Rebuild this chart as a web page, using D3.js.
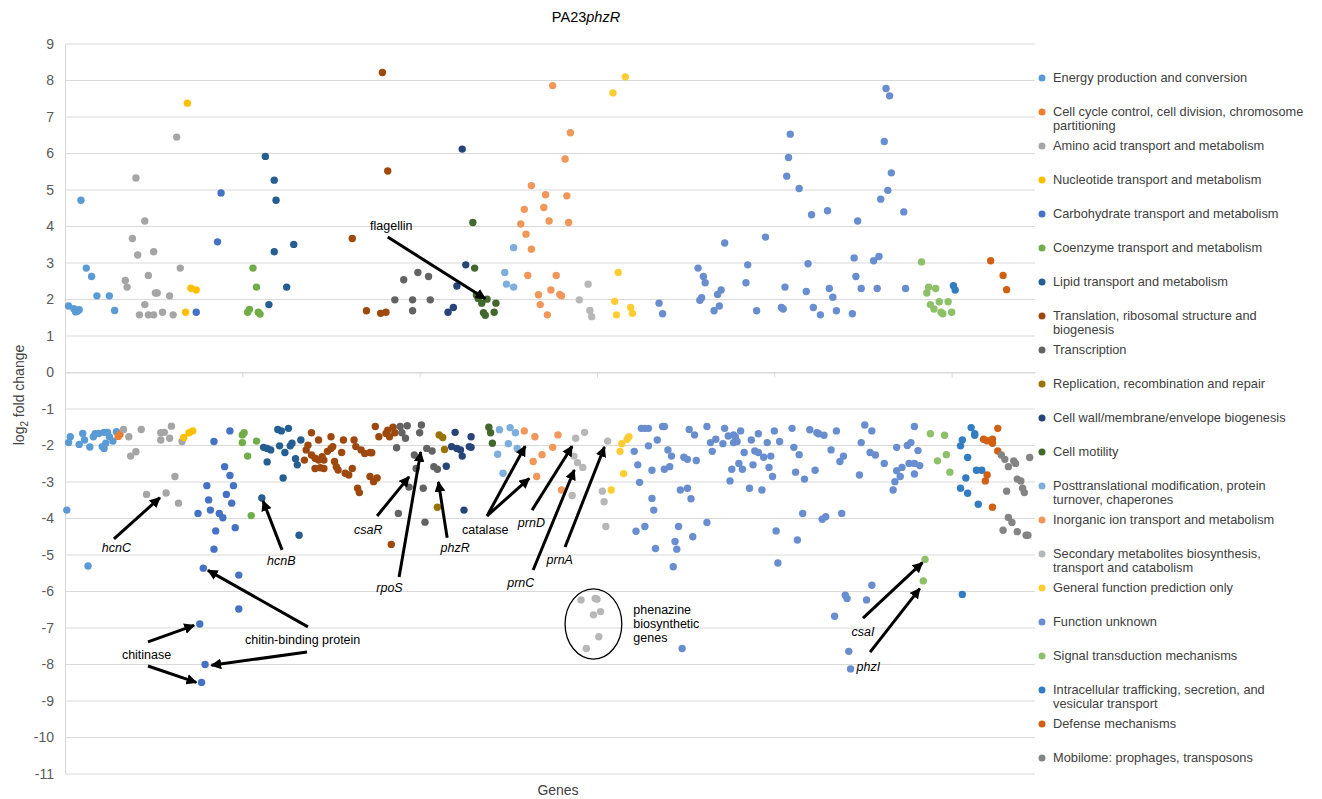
<!DOCTYPE html>
<html>
<head>
<meta charset="utf-8">
<script src="https://cdn.jsdelivr.net/npm/d3@7/dist/d3.min.js"></script>
<style>
  body { margin: 0; background: #fff; font-family: Arial, "Liberation Sans", sans-serif; }
</style>
</head>
<body>
<div class="chart"></div>
<script>
// gene order index along x, log2 fold change along y: [index, value]
var energy = [[9,4.72],[12,2.86],[15,2.63],[18,2.10],[25,2.10],[28,1.70],[2,1.82],[5,1.75],[7,1.68],[8,1.72],[6,1.66],
  [2,-1.92],[3,-1.76],[8,-1.97],[10,-1.67],[11,-1.85],[14,-2.04],[16,-1.76],[17,-1.68],[19,-1.67],[22,-1.64],[24,-1.64],
  [21,-2.03],[22,-2.08],[23,-1.94],[25,-1.76],[27,-1.88],[29,-1.62],[1,-3.77],[13,-5.30]];
var cellCycle = [[31,-1.69],[30,-1.75]];
var aminoAcid = [[63,6.45],[40,5.33],[45,4.15],[38,3.67],[41,3.22],[50,3.31],[65,2.86],[47,2.66],[34,2.52],[35,2.34],
  [51,2.18],[52,2.18],[59,2.10],[45,1.86],[42,1.58],[47,1.58],[50,1.58],[55,1.65],[61,1.58],
  [33,-1.56],[36,-1.76],[37,-2.29],[40,-2.17],[43,-1.56],[54,-1.65],[56,-1.64],[54,-1.85],[59,-1.80],[60,-1.47],
  [66,-1.89],[62,-2.85],[46,-3.34],[57,-3.30],[64,-3.58]];
var nucleotide = [[69,7.38],[71,2.31],[74,2.26],[68,1.65],[67,-1.78],[70,-1.65],[72,-1.60]];
var carbohydrate = [[74,1.65],[88,4.92],[86,3.58],
  [84,-1.89],[93,-1.60],[90,-2.58],[93,-2.82],[95,-3.10],[80,-3.10],[91,-3.34],[81,-3.49],[94,-3.58],[82,-3.77],
  [75,-3.86],[87,-3.86],[89,-3.98],[96,-4.25],[85,-4.34],[84,-4.84],[78,-5.36],[98,-5.55],[98,-6.48],[76,-6.89],
  [79,-8.00],[77,-8.49]];
var coenzyme = [[106,2.86],[108,2.34],[103,1.65],[104,1.73],[109,1.65],[110,1.60],
  [100,-1.71],[101,-1.65],[100,-1.92],[108,-1.88],[103,-2.29],[105,-3.92]];
var lipid = [[113,5.92],[118,5.27],[119,4.72],[118,3.31],[129,3.51],[125,2.34],[115,1.86],
  [111,-3.44],[112,-2.05],[120,-1.56],[122,-1.60],[126,-1.53],[114,-2.08],[116,-2.12],[114,-2.45],[121,-2.01],
  [124,-2.19],[127,-2.01],[128,-1.94],[130,-2.36],[131,-2.53],[133,-1.85],[123,-2.89],[132,-4.46]];
var translation = [[179,8.22],[182,5.52],[162,3.67],[170,1.69],[178,1.62],[181,1.65],
  [139,-1.65],[143,-1.85],[137,-1.99],[136,-2.12],[135,-2.40],[139,-2.26],[141,-2.35],[143,-2.40],[145,-2.31],
  [146,-2.40],[148,-2.16],[150,-2.08],[151,-2.03],[150,-1.76],[141,-2.63],[144,-2.61],[146,-2.63],[152,-2.44],
  [153,-2.58],[154,-2.67],[156,-2.19],[157,-1.85],[158,-2.76],[160,-2.81],[162,-2.63],[163,-1.85],[164,-2.03],
  [167,-2.12],[169,-2.22],[172,-2.19],[173,-2.20],[172,-2.85],[174,-2.99],[176,-2.89],[165,-3.17],[166,-3.29],
  [175,-1.48],[177,-1.76],[181,-1.67],[182,-1.58],[185,-1.50],[186,-1.65],[183,-1.76],[184,-4.71]];
var transcription = [[191,2.54],[199,2.74],[205,2.63],[186,1.99],[196,1.99],[206,1.99],[196,1.69],
  [189,-1.48],[193,-1.46],[190,-1.65],[192,-1.80],[187,-2.06],[201,-1.44],[200,-1.65],[197,-2.26],[204,-2.08],
  [207,-2.15],[198,-2.63],[208,-2.58],[210,-2.65],[194,-3.14],[202,-3.17],[188,-3.86],[203,-4.10]];
var replication = [[211,-1.71],[213,-1.78],[214,-2.11],[210,-3.69]];
var cellWall = [[224,6.12],[226,2.95],[221,2.37],[216,1.65],[219,1.78],
  [220,-1.64],[218,-2.03],[221,-2.08],[223,-2.12],[224,-2.29],[215,-2.57],[225,-3.77],[228,-2.03],[229,-2.05],[229,-1.76]];
var motility = [[230,4.11],[231,2.86],[233,2.03],[235,1.90],[238,2.01],[243,1.90],[236,1.64],[237,1.57],[242,1.65],[232,2.12],
  [239,-1.50],[240,-1.65],[241,-1.94]];
var posttrans = [[253,3.42],[248,2.74],[249,2.42],[253,2.34],
  [245,-1.57],[251,-1.51],[254,-1.65],[250,-1.95],[255,-2.08],[244,-2.24],[247,-2.76]];
var inorganic = [[275,7.86],[263,5.12],[271,4.87],[259,4.47],[270,4.52],[273,4.15],[257,4.07],[260,3.79],[263,3.38],
  [261,2.66],[267,2.13],[268,1.86],[274,2.26],[272,1.58],[277,2.66],[285,6.57],[282,5.85],[283,4.84],[284,4.11],
  [279,2.14],[280,2.10],
  [259,-1.60],[265,-1.76],[278,-1.71],[275,-2.05],[269,-2.25],[264,-2.44],[266,-2.85],[280,-3.22]];
var secondary = [[295,2.42],[290,1.99],[296,1.70],[297,1.53],
  [293,-1.64],[288,-1.80],[287,-2.29],[289,-2.47],[292,-2.60],[286,-3.37],[306,-1.88],[303,-3.25],[304,-3.54],
  [305,-4.22],[291,-6.23],[299,-6.19],[300,-6.21],[298,-6.64],[302,-6.55],[301,-7.24],[294,-7.56]];
var general = [[316,8.10],[309,7.66],[312,2.74],[310,1.95],[311,1.58],[319,1.78],[320,1.62],
  [318,-1.76],[317,-1.83],[314,-1.95],[313,-2.16],[315,-2.77],[308,-3.22]];
var unknown = [[335,1.90],[337,1.61],[357,2.86],[360,2.63],[361,2.46],[358,1.98],[359,2.05],[366,1.69],[369,1.82],
  [368,2.14],[370,2.26],[372,3.55],[385,2.95],[384,2.46],[390,1.69],[395,3.71],[409,6.53],[408,5.89],[407,5.38],
  [414,5.04],[406,2.34],[404,1.78],[405,1.74],[463,7.78],[465,7.58],[462,6.33],[466,5.47],[464,4.99],[460,4.75],
  [473,4.40],[421,4.32],[430,4.43],[447,4.15],[419,2.98],[445,3.14],[456,3.06],[459,3.18],[446,2.63],[418,2.22],
  [431,2.30],[449,2.30],[458,2.30],[474,2.30],[433,2.06],[422,1.78],[426,1.58],[435,1.69],[444,1.61],
  [325,-1.53],[327,-1.53],[329,-1.53],[334,-1.85],[329,-2.01],[321,-2.16],[323,-2.53],[331,-2.68],[324,-3.01],
  [331,-3.45],[332,-3.77],[327,-4.22],[322,-4.35],[333,-4.82],[337,-1.48],[338,-1.48],[340,-2.12],[342,-2.29],
  [338,-2.65],[341,-2.58],[349,-2.32],[351,-2.38],[352,-1.56],[355,-1.71],[356,-2.41],[347,-3.22],[351,-3.17],
  [353,-3.46],[346,-4.22],[344,-4.63],[354,-4.50],[345,-4.84],[362,-4.11],[362,-1.48],[364,-1.92],[367,-1.83],
  [365,-2.16],[371,-1.95],[372,-1.53],[374,-1.74],[377,-1.71],[378,-1.76],[381,-1.60],[377,-1.92],[379,-1.89],
  [383,-2.19],[380,-2.49],[376,-2.65],[382,-2.65],[375,-2.97],[387,-1.85],[391,-1.68],[389,-2.15],[391,-2.19],
  [394,-2.32],[388,-2.53],[386,-3.17],[393,-3.22],[396,-1.92],[398,-2.29],[397,-2.60],[399,-2.85],[400,-1.60],
  [403,-1.89],[401,-4.34],[410,-1.53],[411,-2.05],[414,-2.25],[412,-2.73],[417,-2.92],[420,-1.57],[424,-1.65],
  [425,-1.68],[428,-1.72],[432,-2.12],[439,-2.29],[437,-2.44],[435,-1.60],[423,-2.68],[416,-3.86],[427,-4.02],
  [429,-3.95],[438,-3.86],[413,-4.59],[448,-2.81],[449,-1.92],[451,-1.44],
  [343,-5.32],[402,-5.22],[348,-7.56],[455,-5.83],[440,-6.10],[441,-6.19],[452,-6.23],[434,-6.68],[442,-7.64],[443,-8.12],
  [455,-1.60],[454,-2.19],[457,-2.26],[462,-2.49],[469,-2.05],[475,-2.00],[477,-1.92],[479,-1.48],[481,-2.14],
  [476,-2.49],[479,-2.49],[482,-2.55],[472,-2.60],[469,-2.69],[479,-2.78],[471,-2.85],[468,-2.99],[467,-3.22]];
var signal = [[483,3.03],[487,2.34],[491,2.30],[486,2.18],[488,1.86],[490,1.74],[493,1.94],[498,1.94],[494,1.65],[495,1.61],[500,1.65],
  [488,-1.68],[496,-1.72],[497,-2.25],[492,-2.42],[499,-2.73],[485,-5.12],[484,-5.71]];
var trafficking = [[501,2.38],[502,2.26],
  [511,-1.51],[513,-1.68],[513,-1.72],[506,-1.85],[505,-2.01],[509,-2.33],[514,-2.68],[517,-2.68],[508,-2.89],
  [505,-3.17],[509,-3.31],[515,-3.61],[506,-6.08]];
var defense = [[522,3.06],[529,2.66],[531,2.27],
  [526,-1.53],[518,-1.83],[520,-1.87],[523,-1.83],[523,-1.94],[526,-2.15],[520,-2.81],[519,-2.97],[523,-3.69]];
var mobilome = [[528,-2.26],[530,-2.38],[535,-2.42],[536,-2.49],[532,-2.58],[544,-2.33],[537,-2.92],[539,-2.97],
  [540,-3.17],[541,-3.29],[531,-3.25],[532,-3.97],[534,-4.11],[529,-4.32],[537,-4.36],[542,-4.46],[543,-4.46]];

var series = [energy, cellCycle, aminoAcid, nucleotide, carbohydrate, coenzyme, lipid, translation, transcription,
  replication, cellWall, motility, posttrans, inorganic, secondary, general, unknown, signal, trafficking, defense, mobilome];

var categories = [
  ["Energy production and conversion"],
  ["Cell cycle control, cell division, chromosome", "partitioning"],
  ["Amino acid transport and metabolism"],
  ["Nucleotide transport and metabolism"],
  ["Carbohydrate transport and metabolism"],
  ["Coenzyme transport and metabolism"],
  ["Lipid transport and metabolism"],
  ["Translation, ribosomal structure and", "biogenesis"],
  ["Transcription"],
  ["Replication, recombination and repair"],
  ["Cell wall/membrane/envelope biogenesis"],
  ["Cell motility"],
  ["Posttranslational modification, protein", "turnover, chaperones"],
  ["Inorganic ion transport and metabolism"],
  ["Secondary metabolites biosynthesis,", "transport and catabolism"],
  ["General function prediction only"],
  ["Function unknown"],
  ["Signal transduction mechanisms"],
  ["Intracellular trafficking, secretion, and", "vesicular transport"],
  ["Defense mechanisms"],
  ["Mobilome: prophages, transposons"]
];

var colors = ["#5B9BD5", "#ED7D31", "#A5A5A5", "#FFC000", "#4472C4", "#70AD47", "#255E91", "#9E480E", "#636363",
  "#997300", "#264478", "#43682B", "#7CAFDD", "#F1975A", "#B7B7B7", "#FFCD33", "#698ED0", "#8CC168", "#327DC2",
  "#D26012", "#848484"];

var yTicks = d3.range(-11, 10);
var xTicks = [100, 200, 300, 400, 500];

// gene labels: [text, italic, index, value]
var geneLabels = [
  ["flagellin", false, 184, 3.90],
  ["hcnC", true, 29, -4.92],
  ["hcnB", true, 122, -5.27],
  ["csaR", true, 171, -4.42],
  ["rpoS", true, 183, -6.01],
  ["phzR", true, 220, -4.92],
  ["catalase", false, 237, -4.42],
  ["prnD", true, 263, -4.23],
  ["prnC", true, 257, -5.88],
  ["prnA", true, 279, -5.25],
  ["chitin-binding protein", false, 134, -7.44],
  ["chitinase", false, 46, -7.85],
  ["csaI", true, 450, -7.22],
  ["phzI", true, 453, -8.18]
];
// arrows: [fromIndex, fromValue, toIndex, toValue]
var arrows = [
  [182, 3.71, 237, 2.02],
  [27.6, -4.56, 53.5, -3.43],
  [122.4, -4.86, 111.7, -3.52],
  [176, -3.93, 194, -2.86],
  [188.4, -5.60, 200.6, -2.18],
  [215.5, -4.53, 210.6, -3.00],
  [238, -3.93, 259.5, -2.02],
  [238, -3.93, 261.8, -2.90],
  [263.4, -3.77, 286, -2.02],
  [264, -5.41, 287.2, -2.67],
  [282, -4.78, 304.2, -2.04],
  [137, -6.97, 80.6, -5.42],
  [136.5, -7.66, 82.6, -8.02],
  [46.8, -7.38, 72.8, -6.93],
  [46.8, -8.04, 74.0, -8.49],
  [450, -6.73, 483.5, -5.21],
  [454, -7.66, 482, -5.92]
];
var phenazineText = ["phenazine", "biosynthetic", "genes"];

var width = 1322, height = 799;
var x = d3.scaleLinear().domain([0, 547]).range([65, 1035]);
var y = d3.scaleLinear().domain([-11, 9]).range([774, 44]);

var svg = d3.select(".chart").append("svg")
  .attr("width", width)
  .attr("height", height)
  .style("font-family", "Arial, 'Liberation Sans', sans-serif");

svg.append("defs").append("marker")
  .attr("id", "head")
  .attr("viewBox", "0 0 10 10")
  .attr("refX", 9).attr("refY", 5)
  .attr("markerWidth", 3.6).attr("markerHeight", 3.6)
  .attr("orient", "auto")
  .append("path")
  .attr("d", "M0,0L10,5L0,10z")
  .attr("fill", "#000");

// gridlines
svg.append("g").selectAll("line")
  .data(yTicks)
  .enter().append("line")
  .attr("x1", x(0)).attr("x2", x(547))
  .attr("y1", function (d) { return y(d); })
  .attr("y2", function (d) { return y(d); })
  .attr("stroke", "#D9D9D9")
  .attr("stroke-width", 1);

// y axis, plain hyphen minus like the original
var yAxis = svg.append("g")
  .attr("transform", "translate(" + x(0) + ",0)")
  .call(d3.axisLeft(y).tickValues(yTicks).tickFormat(function (d) { return String(d); })
    .tickSize(0).tickPadding(11));
yAxis.select(".domain").attr("stroke", "#D9D9D9");
yAxis.selectAll("text").attr("fill", "#595959").style("font-size", "14px");

// x axis on the zero line, tick marks only
var xAxis = svg.append("g")
  .attr("transform", "translate(0," + y(0) + ")")
  .call(d3.axisBottom(x).tickValues(xTicks).tickFormat("").tickSize(5).tickSizeOuter(0));
xAxis.select(".domain").attr("stroke", "#D9D9D9");
xAxis.selectAll(".tick line").attr("stroke", "#D9D9D9");

// points
series.forEach(function (pts, k) {
  svg.append("g").selectAll("circle")
    .data(pts)
    .enter().append("circle")
    .attr("cx", function (d) { return x(d[0]); })
    .attr("cy", function (d) { return y(d[1]); })
    .attr("r", 3.7)
    .attr("fill", colors[k]);
});

// annotations
svg.append("g").selectAll("line")
  .data(arrows)
  .enter().append("line")
  .attr("x1", function (d) { return x(d[0]); })
  .attr("y1", function (d) { return y(d[1]); })
  .attr("x2", function (d) { return x(d[2]); })
  .attr("y2", function (d) { return y(d[3]); })
  .attr("stroke", "#000")
  .attr("stroke-width", 3)
  .attr("marker-end", "url(#head)");

svg.append("g").selectAll("text")
  .data(geneLabels)
  .enter().append("text")
  .attr("x", function (d) { return x(d[2]); })
  .attr("y", function (d) { return y(d[3]); })
  .attr("text-anchor", "middle")
  .style("font-size", "12.5px")
  .style("font-style", function (d) { return d[1] ? "italic" : "normal"; })
  .attr("fill", "#000")
  .text(function (d) { return d[0]; });

svg.append("ellipse")
  .attr("cx", x(298)).attr("cy", y(-6.89))
  .attr("rx", x(16) - x(0)).attr("ry", y(-6.89) - y(-5.93))
  .attr("fill", "none")
  .attr("stroke", "#000")
  .attr("stroke-width", 1.3);

svg.append("text")
  .attr("x", x(320.5))
  .attr("y", y(-6.62))
  .style("font-size", "12.5px")
  .selectAll("tspan")
  .data(phenazineText)
  .enter().append("tspan")
  .attr("x", x(320.5))
  .attr("dy", function (d, i) { return i ? 14 : 0; })
  .text(function (d) { return d; });

// title and axis titles
var title = svg.append("text")
  .attr("x", 586).attr("y", 22)
  .attr("text-anchor", "middle")
  .style("font-size", "14.5px")
  .attr("fill", "#000");
title.append("tspan").text("PA23");
title.append("tspan").style("font-style", "italic").text("phzR");

svg.append("text")
  .attr("x", 558).attr("y", 795)
  .attr("text-anchor", "middle")
  .style("font-size", "14px")
  .attr("fill", "#404040")
  .text("Genes");

var ylab = svg.append("text")
  .attr("transform", "translate(24,395) rotate(-90)")
  .attr("text-anchor", "middle")
  .style("font-size", "14px")
  .attr("fill", "#404040");
ylab.append("tspan").text("log");
ylab.append("tspan").attr("dy", 4).style("font-size", "10px").text("2");
ylab.append("tspan").attr("dy", -4).text(" fold change");

// legend
var legend = svg.append("g").selectAll("g")
  .data(categories)
  .enter().append("g")
  .attr("transform", function (d, i) { return "translate(1042," + (78 + i * 34) + ")"; });
legend.append("circle")
  .attr("r", 3.5)
  .attr("fill", function (d, i) { return colors[i]; });
legend.append("text")
  .attr("x", 11)
  .attr("y", 4)
  .style("font-size", "12.8px")
  .attr("fill", "#404040")
  .selectAll("tspan")
  .data(function (d) { return d; })
  .enter().append("tspan")
  .attr("x", 11)
  .attr("dy", function (d, i) { return i ? 14 : 0; })
  .text(function (d) { return d; });
</script>
</body>
</html>
